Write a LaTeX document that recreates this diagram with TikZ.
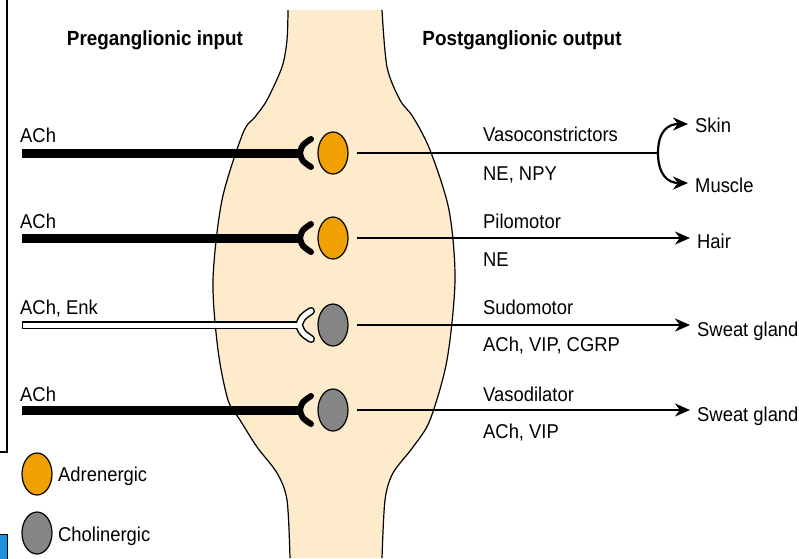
\documentclass[tikz,border=0pt]{standalone}
\usepackage{fontspec}
\setmainfont{Liberation Sans}[FakeStretch=0.92]
\usetikzlibrary{arrows.meta,shapes.geometric}
\definecolor{orng}{HTML}{F0A000}
\definecolor{cgray}{HTML}{858585}
\definecolor{beige}{HTML}{FDEBCB}
\definecolor{tagblue}{HTML}{1E90E0}
\tikzset{
  lbl/.style={anchor=base west, inner sep=0pt, font=\fontsize{20}{24}\selectfont},
  hdr/.style={anchor=base, inner sep=0pt, font=\bfseries\fontsize{20.5}{24}\selectfont},
  cell/.style={ellipse, draw, line width=1.2pt, minimum width=30pt, minimum height=42pt, inner sep=0pt},
  adr/.style={cell, fill=orng},
  chol/.style={cell, fill=cgray},
  post/.style={line width=2.2pt, shorten <=8pt, shorten >=7pt, -{Stealth[length=15pt,width=13pt]}},
  branch/.style={line width=2.2pt, -{Stealth[length=15pt,width=13pt]}},
  pre/.style={line width=9pt, line cap=round, shorten >=0pt},
  fork/.style={line width=6pt, line cap=round, line join=round},
}
\begin{document}
\begin{tikzpicture}[x=1pt,y=-1pt]
\useasboundingbox (0,0) rectangle (799,558);
% ganglion
\fill[beige] plot[smooth] coordinates {(288,10) (287,40) (282,67) (267,100) (255,117) (243,133) (222,200) (213,280) (218,350) (228,400) (240,420) (257,447) (277,473) (287,500) (290,558)}
  -- plot[smooth] coordinates {(382,558) (385,500) (393,473) (413,447) (430,420) (447,360) (455,280) (449,210) (430,150) (413,117) (400,100) (387,67) (382,10)} -- cycle;
\draw[line width=1.2pt] plot[smooth] coordinates {(288,10) (287,40) (282,67) (267,100) (255,117) (243,133) (222,200) (213,280) (218,350) (228,400) (240,420) (257,447) (277,473) (287,500) (290,558)};
\draw[line width=1.2pt] plot[smooth] coordinates {(382,558) (385,500) (393,473) (413,447) (430,420) (447,360) (455,280) (449,210) (430,150) (413,117) (400,100) (387,67) (382,10)};
% frame fragments
\draw[line width=1.2pt] (7,0) -- (7,452) -- (0,452);
\draw[line width=1pt, fill=tagblue] (-1,534) rectangle (7,559);
% headers
\node[hdr] (hin) at (155,45) {Preganglionic input};
\node[hdr] (hout) at (522,45) {Postganglionic output};
% cells
\node[adr] (c1) at (333,153) {};
\node[adr] (c2) at (333,238) {};
\node[chol] (c3) at (333,325) {};
\node[chol] (c4) at (333,410) {};
% preganglionic inputs
\coordinate (s1) at (22,153); \coordinate (f1) at (300,153);
\coordinate (s2) at (22,238); \coordinate (f2) at (300,238);
\coordinate (s3) at (22,325); \coordinate (f3) at (300,325);
\coordinate (s4) at (22,410); \coordinate (f4) at (300,410);
\foreach \i in {1,2,4}{
  \draw[line width=9pt] (s\i) -- (f\i);
  \draw[fork] ([shift={(11,-14)}]f\i) .. controls ([shift={(2,-8)}]f\i) .. (f\i) .. controls ([shift={(2,8)}]f\i) .. ([shift={(11,14)}]f\i);
}
\draw[line width=8pt] (s3) -- (f3);
\draw[line width=8pt, line cap=round, line join=round] ([shift={(11,-14)}]f3) .. controls ([shift={(2,-8)}]f3) .. ([shift={(-1,0)}]f3) .. controls ([shift={(2,8)}]f3) .. ([shift={(11,14)}]f3);
\draw[line width=5pt, white] ([shift={(-3,0)}]s3) -- ([shift={(-2,0)}]f3);
\draw[line width=5pt, white, line cap=round, line join=round] ([shift={(11,-14)}]f3) .. controls ([shift={(2,-8)}]f3) .. ([shift={(-1,0)}]f3) .. controls ([shift={(2,8)}]f3) .. ([shift={(11,14)}]f3);
\draw[line width=1pt] ([shift={(0,-4)}]s3) -- ++(0,8);
% left labels
\node[lbl] (a1) at (20,142) {ACh};
\node[lbl] (a2) at (20,228) {ACh};
\node[lbl] (a3) at (20,314) {ACh, Enk};
\node[lbl] (a4) at (20,401) {ACh};
% right labels
\node[lbl] (r1) at (483,141) {Vasoconstrictors};
\node[lbl] (n1) at (483,180) {NE, NPY};
\node[lbl] (r2) at (483,228) {Pilomotor};
\node[lbl] (n2) at (483,266) {NE};
\node[lbl] (r3) at (483,314) {Sudomotor};
\node[lbl] (n3) at (483,351) {ACh, VIP, CGRP};
\node[lbl] (r4) at (483,401) {Vasodilator};
\node[lbl] (n4) at (483,438) {ACh, VIP};
% targets
\node[lbl] (skin) at (695,132) {Skin};
\node[lbl] (muscle) at (695,192) {Muscle};
\node[lbl] (hair) at (697,248) {Hair};
\node[lbl] (sw1) at (697,336) {Sweat gland};
\node[lbl] (sw2) at (697,421) {Sweat gland};
% postganglionic outputs
\coordinate (j1) at (658,153);
\draw[line width=2.2pt, shorten <=8pt] (c1.east) -- (j1);
\draw[branch] (j1) .. controls (658,131) and (668,124) .. (688,124);
\draw[branch] (j1) .. controls (658,175) and (668,183) .. (688,183);
\draw[post] (c2.east) -- (c2.east -| hair.west);
\draw[post] (c3.east) -- (c3.east -| sw1.west);
\draw[post] (c4.east) -- (c4.east -| sw2.west);
% legend
\node[adr] (la) at (37,474) {};
\node[chol] (lc) at (37,533) {};
\node[lbl] (ta) at (58,481) {Adrenergic};
\node[lbl] (tc) at (58,541) {Cholinergic};
\end{tikzpicture}
\end{document}
